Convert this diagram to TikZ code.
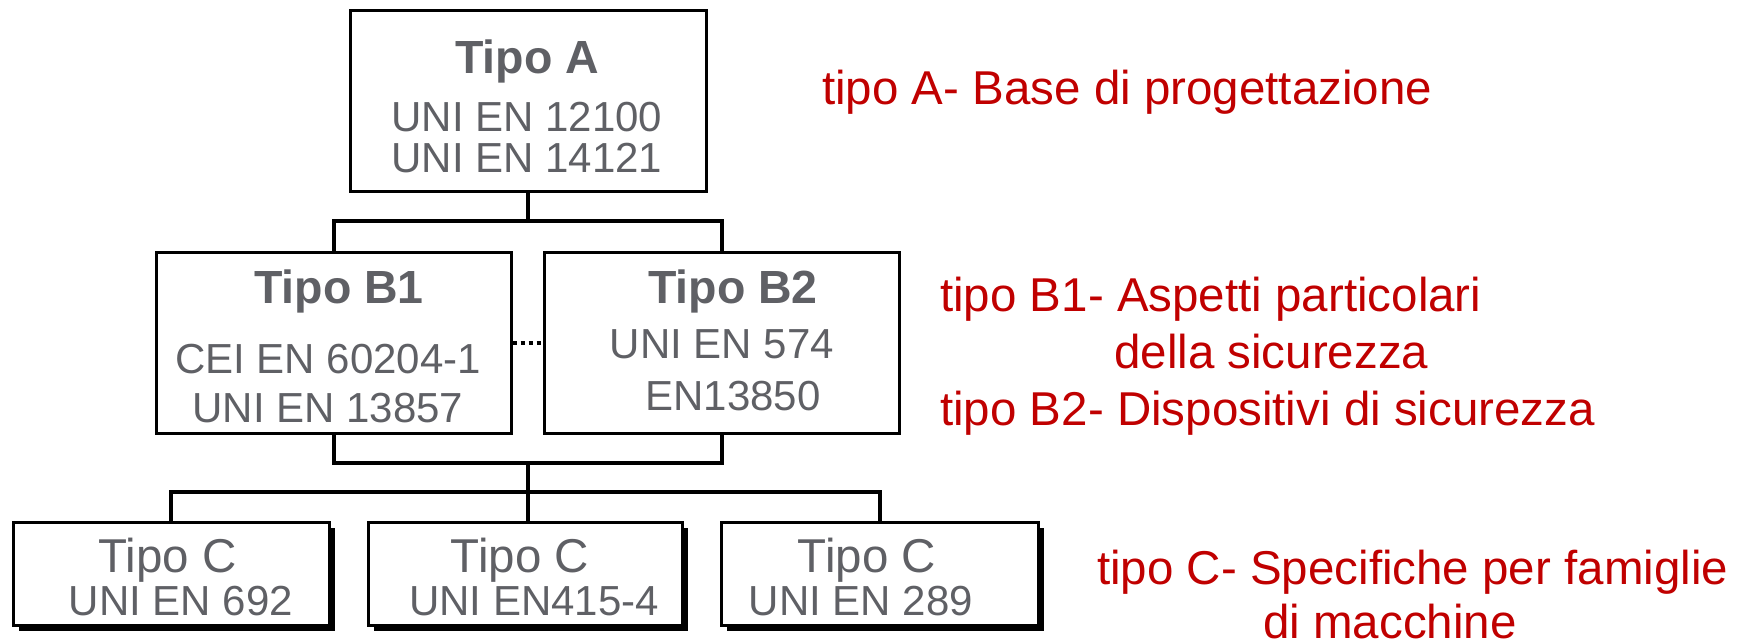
\documentclass[tikz,border=0pt]{standalone}
\usepackage{fontspec}
\setmainfont{Liberation Sans}
\usetikzlibrary{calc}
\definecolor{txtgray}{RGB}{95,96,101}
\definecolor{txtred}{RGB}{192,0,0}
\begin{document}
\begin{tikzpicture}[x=1pt,y=-1pt,
  box/.style={draw=black, line width=3pt, rectangle, inner sep=0pt, fill=white},
  shadowbox/.style={fill=black, draw=none, rectangle, inner sep=0pt},
  link/.style={draw=black, line width=4pt},
  dotlink/.style={draw=black, line width=4pt, dash pattern=on 4pt off 4pt},
  gtitle/.style={text=txtgray, inner sep=0pt, anchor=base, font=\fontsize{46.5}{55}\selectfont\bfseries},
  gline/.style={text=txtgray, inner sep=0pt, anchor=base, font=\fontsize{42}{50}\selectfont},
  ctitle/.style={text=txtgray, inner sep=0pt, anchor=base, font=\fontsize{47.5}{56}\selectfont},
  rline/.style={text=txtred, inner sep=0pt, anchor=base west, font=\fontsize{47.5}{57}\selectfont}]
\useasboundingbox (0,0) rectangle (1745,644);

% boxes
\node[box, minimum width=356pt, minimum height=181pt] (A) at (528,101.5) {};
\node[box, minimum width=355pt, minimum height=180pt] (B1) at (333.5,343) {};
\node[box, minimum width=355pt, minimum height=180pt] (B2) at (721.5,343) {};

\node[shadowbox, minimum width=316pt, minimum height=103pt] (C1s) at (177,579.5) {};
\node[shadowbox, minimum width=314pt, minimum height=103pt] (C2s) at (531,579.5) {};
\node[shadowbox, minimum width=317pt, minimum height=103pt] (C3s) at (885.5,579.5) {};
\node[box, minimum width=316pt, minimum height=103pt] (C1) at (171,573.5) {};
\node[box, minimum width=314pt, minimum height=103pt] (C2) at (525,573.5) {};
\node[box, minimum width=317pt, minimum height=103pt] (C3) at (879.5,573.5) {};

% connectors
\draw[link] (A.south) -- ++(0,28) coordinate (j1);
\draw[link] (B1.north) |- (j1) -| (B2.north);
\draw[link] (B1.south) -- ++(0,28) coordinate (k1) -| (B2.south);
\coordinate (j2) at (A.south |- k1);
\draw[link] (j2) -- ++(0,29) coordinate (j3);
\draw[link] (C1.north) |- (j3) -| (C3.north);
\draw[link] (j3) -- (j3 |- C2.north);
\draw[dotlink] (B1.east) -- (B2.west);

% texts in boxes
\node[gtitle] (tA) at (527,74) {Tipo A};
\node[gline] (tA1) at (527,132) {UNI EN 12100};
\node[gline] (tA2) at (527,173) {UNI EN 14121};

\node[gtitle] (tB1) at (339,303) {Tipo B1};
\node[gline] (tB11) at (328,373) {CEI EN 60204-1};
\node[gline] (tB12) at (328,422) {UNI EN 13857};

\node[gtitle] (tB2) at (733,303) {Tipo B2};
\node[gline] (tB21) at (722,358) {UNI EN 574};
\node[gline] (tB22) at (733,410) {EN13850};

\node[ctitle] (tC1) at (167.5,572) {Tipo C};
\node[gline] (tC11) at (181,615) {UNI EN 692};
\node[ctitle] (tC2) at (520,572) {Tipo C};
\node[gline] (tC21) at (534,615) {UNI EN415-4};
\node[ctitle] (tC3) at (867,572) {Tipo C};
\node[gline] (tC31) at (861,615) {UNI EN 289};

% red legend
\node[rline] (rA) at (822,105) {tipo A- Base di progettazione};
\node[rline] (rB1) at (940,312) {tipo B1- Aspetti particolari};
\node[rline] (rB1b) at (1114,368) {della sicurezza};
\node[rline] (rB2) at (940,425) {tipo B2- Dispositivi di sicurezza};
\node[rline] (rC) at (1097,584) {tipo C- Specifiche per famiglie};
\node[rline] (rC2) at (1263,638) {di macchine};
\end{tikzpicture}
\end{document}
